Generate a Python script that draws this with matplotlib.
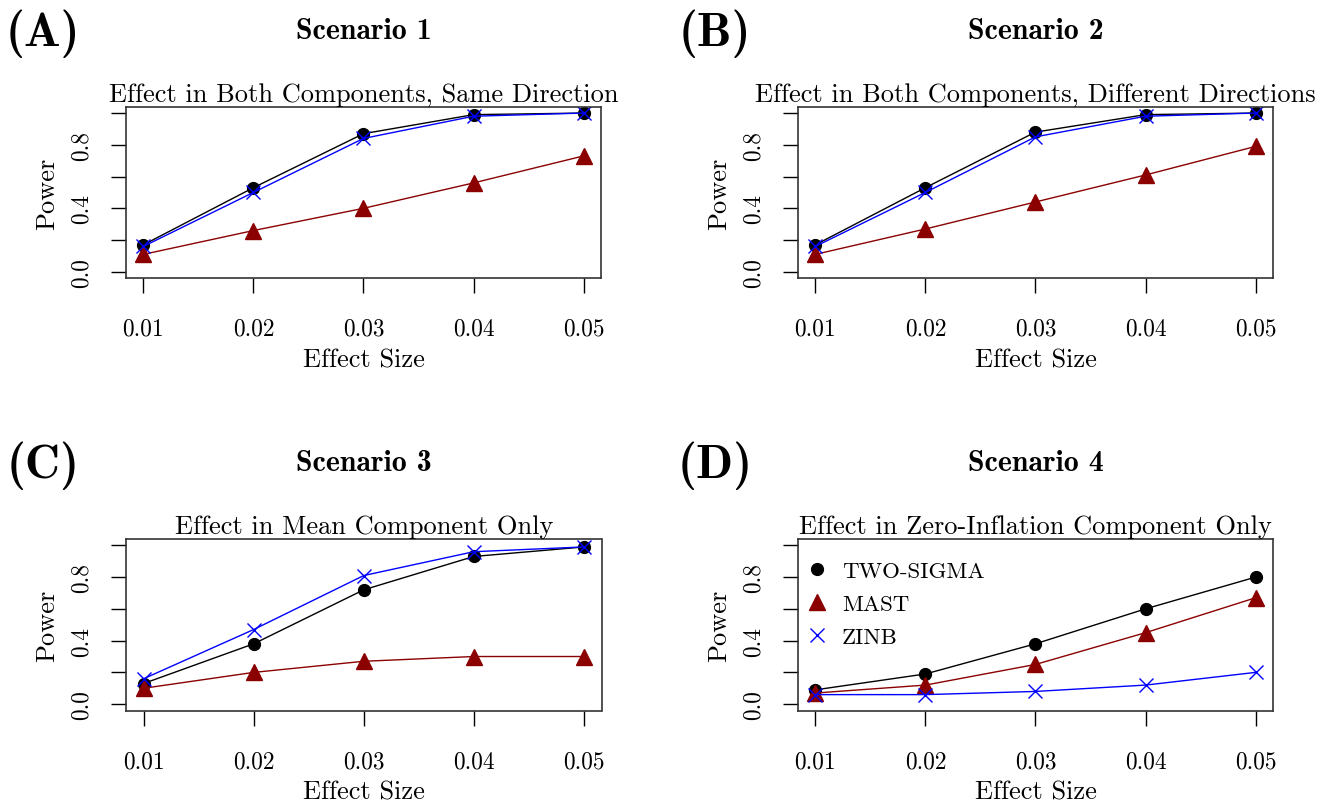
import matplotlib
matplotlib.use("Agg")
import matplotlib.pyplot as plt

plt.rcParams["font.family"] = "cmr10"
plt.rcParams["mathtext.fontset"] = "cm"
plt.rcParams["axes.unicode_minus"] = False

# ---------------------------------------------------------------------------
# Data (power)
# ---------------------------------------------------------------------------
effect_size = [0.01, 0.02, 0.03, 0.04, 0.05]

panel_tags = ["(A)", "(B)", "(C)", "(D)"]
scenario_names = ["Scenario 1", "Scenario 2", "Scenario 3", "Scenario 4"]
subtitles = [
    "Effect in Both Components, Same Direction",
    "Effect in Both Components, Different Directions",
    "Effect in Mean Component Only",
    "Effect in Zero-Inflation Component Only",
]

two_sigma = [
    [0.17, 0.53, 0.87, 0.99, 1.00],
    [0.17, 0.53, 0.88, 0.99, 1.00],
    [0.13, 0.38, 0.72, 0.93, 0.99],
    [0.09, 0.19, 0.38, 0.60, 0.80],
]
mast = [
    [0.11, 0.26, 0.40, 0.56, 0.73],
    [0.11, 0.27, 0.44, 0.61, 0.79],
    [0.10, 0.20, 0.27, 0.30, 0.30],
    [0.07, 0.12, 0.25, 0.45, 0.67],
]
zinb = [
    [0.16, 0.50, 0.84, 0.98, 1.00],
    [0.16, 0.50, 0.85, 0.98, 1.00],
    [0.16, 0.47, 0.81, 0.96, 0.99],
    [0.06, 0.06, 0.08, 0.12, 0.20],
]

method_names = ["TWO-SIGMA", "MAST", "ZINB"]
x_ticks = [0.01, 0.02, 0.03, 0.04, 0.05]
x_tick_labels = ["0.01", "0.02", "0.03", "0.04", "0.05"]
y_ticks = [0.0, 0.2, 0.4, 0.6, 0.8, 1.0]
y_tick_labels = ["0.0", "", "0.4", "", "0.8", ""]

# ---------------------------------------------------------------------------
# Figure
# ---------------------------------------------------------------------------
W, H = 1318, 803
fig = plt.figure(figsize=(W / 100, H / 100), dpi=100)

# axes boxes in pixels: left, top
box_w, box_h = 475.5, 171.5
corners = [(125.7, 107.7), (797.7, 107.7), (126.0, 540.0), (797.7, 540.0)]

for k in range(4):
    left, top = corners[k]
    ax = fig.add_axes([left / W, 1 - (top + box_h) / H, box_w / W, box_h / H])

    ax.plot(effect_size, two_sigma[k], color="black", lw=1.0,
            marker="o", ms=8.5, label=method_names[0])
    ax.plot(effect_size, mast[k], color="#8B0000", lw=1.0,
            marker="^", ms=11.5, label=method_names[1])
    ax.plot(effect_size, zinb[k], color="blue", lw=1.0,
            marker="x", ms=9.5, mew=1.0, label=method_names[2])

    ax.set_xlim(0.0084, 0.0516)
    ax.set_ylim(-0.04, 1.04)
    ax.set_xticks(x_ticks)
    ax.set_xticklabels(x_tick_labels, fontsize=16.8)
    ax.set_yticks(y_ticks)
    ax.set_yticklabels(y_tick_labels, fontsize=16.8, rotation=90, va="center")
    ax.tick_params(axis="x", direction="out", length=11, width=1.0, pad=17.5)
    ax.tick_params(axis="y", direction="out", length=11, width=1.0, pad=13)
    for sp in ax.spines.values():
        sp.set_linewidth(1.2)
        sp.set_color("#333333")

    ax.set_xlabel("Effect Size", fontsize=19)
    ax.xaxis.label.set_va("center")
    ax.xaxis.set_label_coords(0.5, -81 / box_h)
    ax.set_ylabel("Power", fontsize=19)
    ax.yaxis.label.set_va("center")
    ax.yaxis.set_label_coords(-78.5 / box_w, 0.5)

    ax.set_title(subtitles[k], fontsize=19, pad=4.3)

    # panel tag and scenario header
    dy = top - 107.7
    fig.text((left - 82.7) / W, 1 - (46 + dy) / H, panel_tags[k],
             fontsize=35, family="cmb10", ha="center", va="baseline")
    fig.text((left + box_w / 2) / W, 1 - (39 + dy) / H, scenario_names[k],
             fontsize=21.5, family="cmb10", ha="center", va="baseline")

    if k == 3:
        ax.legend(loc="upper left", bbox_to_anchor=(0.016, 0.87),
                  frameon=False, fontsize=16.5, borderaxespad=0, borderpad=0,
                  handlelength=1.0, handletextpad=0.6, labelspacing=0.55)
        for line in ax.get_legend().get_lines():
            line.set_linestyle("none")

fig.savefig("out.png", dpi=100)
